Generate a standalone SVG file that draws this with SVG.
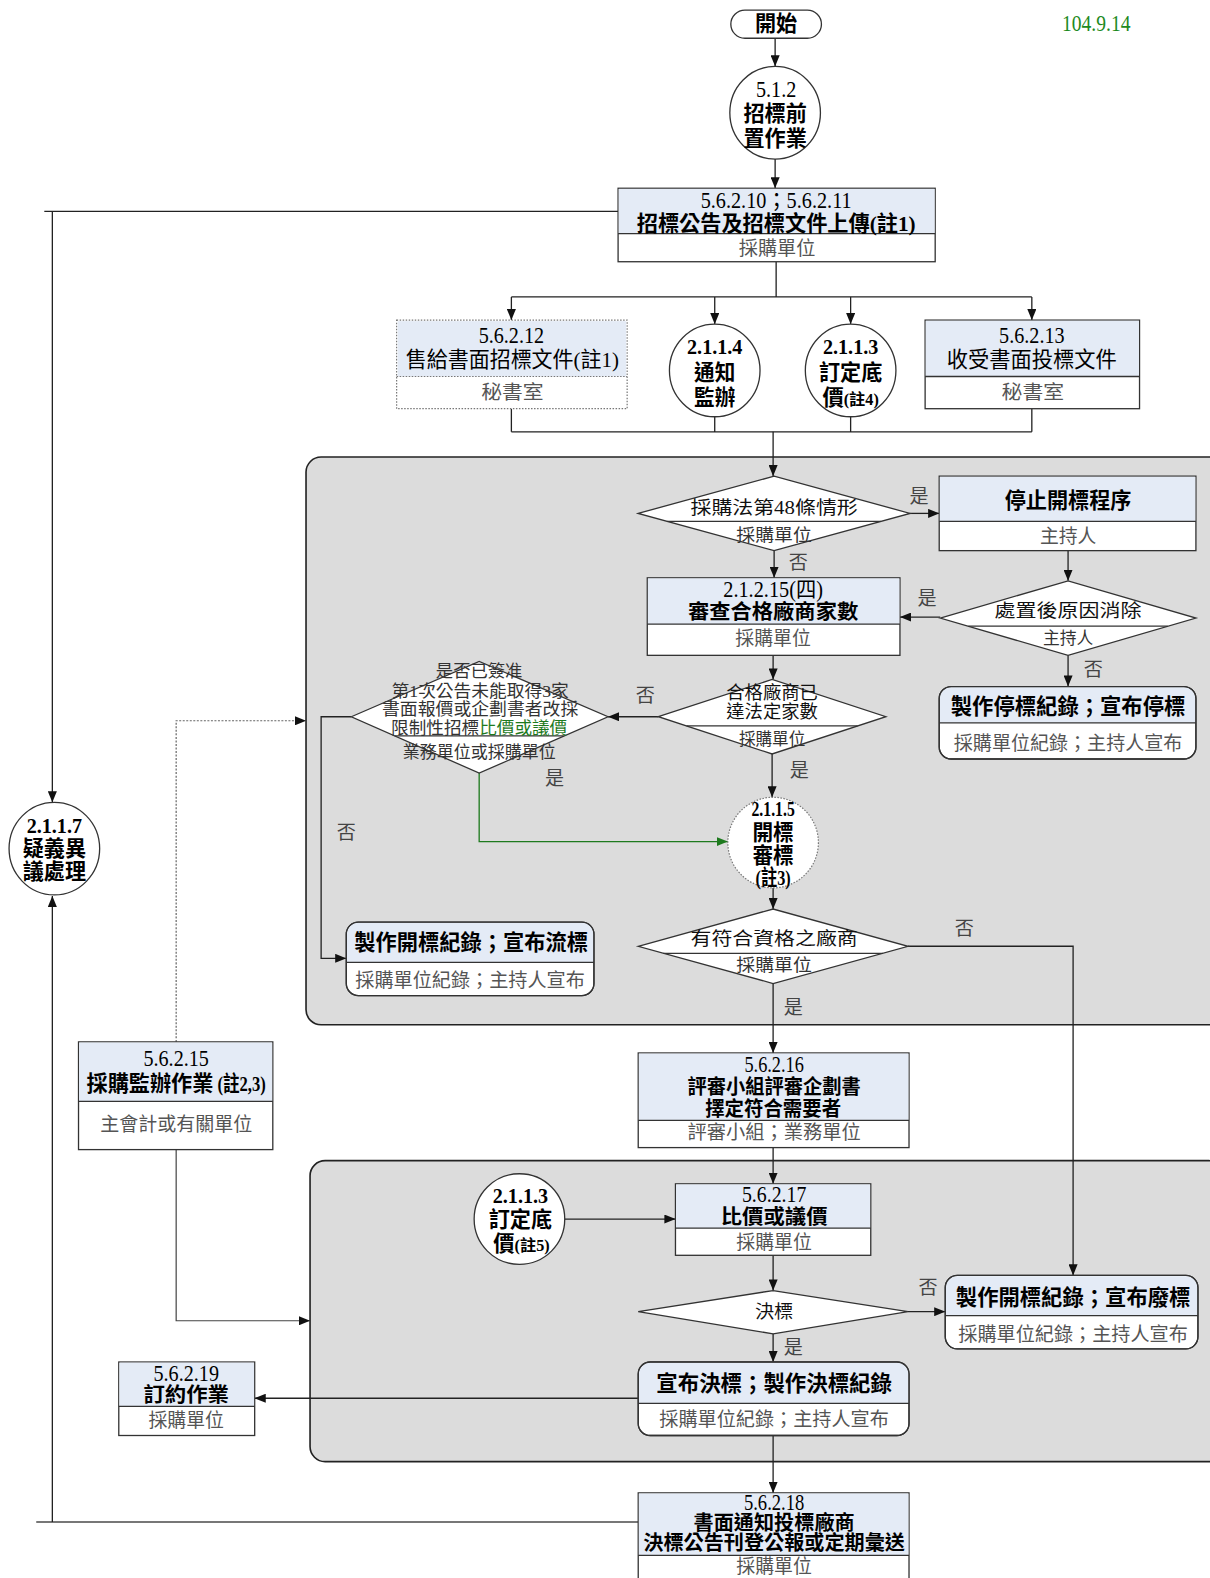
<svg xmlns="http://www.w3.org/2000/svg" width="1210" height="1578" viewBox="0 0 1210 1578">
<style>
.ln{fill:none;stroke:#222;stroke-width:1.3}
.ar{marker-end:url(#ah)}
.bx{fill:#fff;stroke:#333;stroke-width:1.3}
.hd{fill:#E4EBF6}
.dv{stroke:#333;stroke-width:1.3}
.pn{fill:#DCDCDC;stroke:#222;stroke-width:1.6}
text{font-family:"Liberation Serif","Noto Sans CJK TC",serif;text-anchor:middle}
.t{font-size:21px;fill:#000}
.n{font-size:22px;fill:#000}
.tb{font-size:21px;fill:#000;font-weight:bold}
.tb2{font-size:20px;fill:#000;font-weight:bold}
.s{font-size:19px;fill:#555}
.dt{font-size:18px;fill:#111}
.ds{font-size:17px;fill:#333}
.yn{font-size:19px;fill:#444}
</style>
<defs>
<marker id="ah" markerUnits="userSpaceOnUse" markerWidth="11" markerHeight="9" refX="11" refY="4.5" orient="auto"><path d="M0,0 L11,4.5 L0,9 z" fill="#111"/></marker>
<marker id="ahg" markerUnits="userSpaceOnUse" markerWidth="11" markerHeight="9" refX="11" refY="4.5" orient="auto"><path d="M0,0 L11,4.5 L0,9 z" fill="#1E7A1E"/></marker>
</defs>
<rect width="1210" height="1578" fill="#fff"/>
<g transform="scale(1.00666)">
<g id="panels">
<rect class="pn" x="304" y="454" width="912" height="564" rx="15"/>
<rect class="pn" x="308" y="1153" width="908" height="299" rx="15"/>
</g>
<g id="connectors">
<path class="ln ar" d="M770,38 V66"/>
<path class="ln ar" d="M770,158 V187"/>
<path class="ln" d="M771,260 V295 M508,295 H1025"/>
<path class="ln ar" d="M508,295 V318"/>
<path class="ln ar" d="M710,295 V322"/>
<path class="ln ar" d="M845,295 V322"/>
<path class="ln ar" d="M1025,295 V318"/>
<path class="ln" d="M508,406 V429 M710,414 V429 M845,414 V429 M1025,406 V429 M508,429 H1025"/>
<path class="ln ar" d="M768,429 V473"/>
<path class="ln ar" d="M904,510 H933"/>
<path class="ln ar" d="M769,547 V574"/>
<path class="ln ar" d="M1061,547 V577"/>
<path class="ln ar" d="M934,613 H894"/>
<path class="ln ar" d="M1061,651 V682"/>
<path class="ln ar" d="M768,651 V675"/>
<path class="ln ar" d="M654,712 H604"/>
<path fill="none" stroke="#1E7A1E" stroke-width="1.3" marker-end="url(#ahg)" d="M476,768 V836 H723"/>
<path class="ln ar" d="M349,712 H319 V952 H344"/>
<path class="ln ar" d="M767,749 V792"/>
<path class="ln ar" d="M768,882 V903"/>
<path class="ln ar" d="M902,940 H1066 V1267"/>
<path class="ln ar" d="M768,977 V1046"/>
<path class="ln ar" d="M768,1140 V1176"/>
<path class="ln ar" d="M561,1211 H671"/>
<path class="ln ar" d="M768,1247 V1282"/>
<path class="ln ar" d="M902,1303 H939"/>
<path class="ln ar" d="M768,1325 V1353"/>
<path class="ln ar" d="M634,1389 H253"/>
<path class="ln ar" d="M768,1426 V1483"/>
<path fill="none" stroke="#777" stroke-width="2" d="M634,1512 H36"/>
<path class="ln ar" d="M52,1512 V890"/>
<path class="ln" d="M614,210 H44"/>
<path class="ln ar" d="M52,210 V797"/>
<path fill="none" stroke="#666" stroke-width="1.2" stroke-dasharray="2,1.5" marker-end="url(#ah)" d="M175,1035 V716 H304"/>
<path fill="none" stroke="#444" stroke-width="1.2" marker-end="url(#ah)" d="M175,1142 V1312 H308"/>
</g>
<g id="labels">
<text class="yn" x="913" y="500">是</text>
<text class="yn" x="793" y="565">否</text>
<text class="yn" x="921" y="601">是</text>
<text class="yn" x="1086" y="672">否</text>
<text class="yn" x="641" y="697">否</text>
<text class="yn" x="551" y="780">是</text>
<text class="yn" x="794" y="772">是</text>
<text class="yn" x="344" y="833">否</text>
<text class="yn" x="958" y="929">否</text>
<text class="yn" x="788" y="1007">是</text>
<text class="yn" x="922" y="1285">否</text>
<text class="yn" x="788" y="1345">是</text>
<text x="1089" y="31" font-size="22" fill="#1E8A1E" textLength="68" lengthAdjust="spacingAndGlyphs">104.9.14</text>
</g>
<g id="n_start">
<rect class="bx" x="726" y="10" width="90" height="28" rx="14"/>
<text class="tb" x="771" y="31" font-size="20" textLength="42" lengthAdjust="spacingAndGlyphs">開始</text>
</g>
<g id="n_512">
<ellipse class="bx" cx="770" cy="112" rx="45" ry="46"/>
<text class="n" x="771" y="96" textLength="40" lengthAdjust="spacingAndGlyphs">5.1.2</text>
<text class="tb" x="770" y="120" textLength="63" lengthAdjust="spacingAndGlyphs">招標前</text>
<text class="tb" x="770" y="145" textLength="63" lengthAdjust="spacingAndGlyphs">置作業</text>
</g>
<g id="n_56210">
<rect class="bx" x="614" y="187" width="315" height="73"/>
<rect class="hd" x="614.6" y="187.6" width="313.8" height="44.4"/>
<line class="dv" x1="614" y1="232" x2="929" y2="232"/>
<text class="n" x="771" y="207" textLength="150" lengthAdjust="spacingAndGlyphs">5.6.2.10；5.6.2.11</text>
<text class="tb" x="771" y="229" textLength="277" lengthAdjust="spacingAndGlyphs">招標公告及招標文件上傳(註1)</text>
<text class="s" x="772" y="253" textLength="76" lengthAdjust="spacingAndGlyphs">採購單位</text>
</g>
<g id="n_56212">
<rect x="394" y="318" width="229" height="88" fill="#fff" stroke="#777" stroke-width="1.2" stroke-dasharray="1.5,1.5"/>
<rect class="hd" x="395" y="319" width="227" height="55"/>
<line x1="394" y1="374" x2="623" y2="374" stroke="#777" stroke-width="1.2" stroke-dasharray="1.5,1.5"/>
<text class="n" x="508" y="341" textLength="65" lengthAdjust="spacingAndGlyphs">5.6.2.12</text>
<text class="t" x="509" y="365" textLength="212" lengthAdjust="spacingAndGlyphs">售給書面招標文件(註1)</text>
<text class="s" x="509" y="396" textLength="62" lengthAdjust="spacingAndGlyphs">秘書室</text>
</g>
<g id="n_2114">
<ellipse class="bx" cx="710" cy="368" rx="45" ry="46"/>
<text class="tb" x="710" y="352" textLength="55" lengthAdjust="spacingAndGlyphs">2.1.1.4</text>
<text class="tb" x="710" y="377" textLength="41" lengthAdjust="spacingAndGlyphs">通知</text>
<text class="tb" x="710" y="402" textLength="41" lengthAdjust="spacingAndGlyphs">監辦</text>
</g>
<g id="n_2113a">
<ellipse class="bx" cx="845" cy="368" rx="45" ry="46"/>
<text class="tb" x="845" y="352" textLength="55" lengthAdjust="spacingAndGlyphs">2.1.1.3</text>
<text class="tb" x="845" y="377" textLength="63" lengthAdjust="spacingAndGlyphs">訂定底</text>
<text class="tb" x="845" y="402" textLength="56" lengthAdjust="spacingAndGlyphs">價<tspan font-size="16">(註4)</tspan></text>
</g>
<g id="n_56213">
<rect class="bx" x="919" y="318" width="213" height="88"/>
<rect class="hd" x="919.6" y="318.6" width="211.8" height="55.4"/>
<line class="dv" x1="919" y1="374" x2="1132" y2="374"/>
<text class="n" x="1025" y="341" textLength="65" lengthAdjust="spacingAndGlyphs">5.6.2.13</text>
<text class="t" x="1025" y="365" textLength="169" lengthAdjust="spacingAndGlyphs">收受書面投標文件</text>
<text class="s" x="1026" y="396" textLength="62" lengthAdjust="spacingAndGlyphs">秘書室</text>
</g>
<g id="d_48">
<polygon class="bx" points="634,510 769,473 904,510 769,547"/>
<line class="dv" x1="663" y1="518" x2="875" y2="518"/>
<text class="dt" x="769" y="511" textLength="166" lengthAdjust="spacingAndGlyphs">採購法第48條情形</text>
<text class="ds" x="769" y="537" textLength="75" lengthAdjust="spacingAndGlyphs">採購單位</text>
</g>
<g id="n_stop">
<rect class="bx" x="933" y="473" width="255" height="74"/>
<rect class="hd" x="933.6" y="473.6" width="253.8" height="44.4"/>
<line class="dv" x1="933" y1="518" x2="1188" y2="518"/>
<text class="tb" x="1061" y="505" textLength="126" lengthAdjust="spacingAndGlyphs">停止開標程序</text>
<text class="s" x="1061" y="539" textLength="56" lengthAdjust="spacingAndGlyphs">主持人</text>
</g>
<g id="n_21215">
<rect class="bx" x="643" y="574" width="251" height="77"/>
<rect class="hd" x="643.6" y="574.6" width="249.8" height="45.4"/>
<line class="dv" x1="643" y1="620" x2="894" y2="620"/>
<text class="n" x="768" y="593" textLength="99" lengthAdjust="spacingAndGlyphs">2.1.2.15(四)</text>
<text class="tb2" x="768" y="615" textLength="169" lengthAdjust="spacingAndGlyphs">審查合格廠商家數</text>
<text class="s" x="768" y="641" textLength="75" lengthAdjust="spacingAndGlyphs">採購單位</text>
</g>
<g id="d_dispose">
<polygon class="bx" points="934,614 1061,577 1188,614 1061,651"/>
<line class="dv" x1="962" y1="622" x2="1160" y2="622"/>
<text class="dt" x="1061" y="613" textLength="146" lengthAdjust="spacingAndGlyphs">處置後原因消除</text>
<text class="ds" x="1061" y="640" textLength="50" lengthAdjust="spacingAndGlyphs">主持人</text>
</g>
<g id="n_stoprec">
<rect class="bx" x="933" y="682" width="255" height="72" rx="12"/>
<path class="hd" d="M933.7,718 V694 A11.3,11.3 0 0 1 945,682.7 H1176 A11.3,11.3 0 0 1 1187.3,694 V718 Z"/>
<line class="dv" x1="933" y1="718" x2="1188" y2="718"/>
<rect x="933" y="682" width="255" height="72" rx="12" fill="none" stroke="#333" stroke-width="1.3"/>
<text class="tb" x="1061" y="709" textLength="233" lengthAdjust="spacingAndGlyphs">製作停標紀錄；宣布停標</text>
<text class="s" x="1061" y="745" textLength="227" lengthAdjust="spacingAndGlyphs">採購單位紀錄；主持人宣布</text>
</g>
<g id="d_qual">
<polygon class="bx" points="654,712 767,675 880,712 767,749"/>
<line class="dv" x1="682" y1="721" x2="852" y2="721"/>
<text class="dt" x="767" y="694" textLength="91" lengthAdjust="spacingAndGlyphs">合格廠商已</text>
<text class="dt" x="767" y="713" textLength="91" lengthAdjust="spacingAndGlyphs">達法定家數</text>
<text class="ds" x="767" y="740" fill="#555" textLength="66" lengthAdjust="spacingAndGlyphs">採購單位</text>
</g>
<g id="d_approve">
<polygon class="bx" points="349,712 476,657 604,712 476,768"/>
<line class="dv" x1="392" y1="731" x2="560" y2="731"/>
<text class="ds" x="476" y="673" fill="#111" textLength="86" lengthAdjust="spacingAndGlyphs">是否已簽准</text>
<text class="ds" x="477" y="692" fill="#111" textLength="176" lengthAdjust="spacingAndGlyphs">第1次公告未能取得3家</text>
<text class="ds" x="477" y="710" fill="#111" textLength="195" lengthAdjust="spacingAndGlyphs">書面報價或企劃書者改採</text>
<text class="ds" x="476" y="729" fill="#111" textLength="175" lengthAdjust="spacingAndGlyphs">限制性招標<tspan fill="#1E7A1E">比價或議價</tspan></text>
<text class="ds" x="476" y="753" fill="#555" textLength="152" lengthAdjust="spacingAndGlyphs">業務單位或採購單位</text>
</g>
<g id="n_2115">
<ellipse cx="768" cy="837" rx="45" ry="45" fill="#fff" stroke="#777" stroke-width="1.2" stroke-dasharray="1.5,1.5"/>
<text class="tb" x="768" y="811" font-size="17" textLength="43" lengthAdjust="spacingAndGlyphs">2.1.1.5</text>
<text class="tb" x="768" y="834" font-size="21" textLength="41" lengthAdjust="spacingAndGlyphs">開標</text>
<text class="tb" x="768" y="857" font-size="21" textLength="41" lengthAdjust="spacingAndGlyphs">審標</text>
<text class="tb" x="768" y="879" font-size="15" textLength="35" lengthAdjust="spacingAndGlyphs">(註3)</text>
</g>
<g id="n_fail">
<rect class="bx" x="344" y="916" width="246" height="73" rx="12"/>
<path class="hd" d="M344.7,956 V928 A11.3,11.3 0 0 1 356,916.7 H578 A11.3,11.3 0 0 1 589.3,928 V956 Z"/>
<line class="dv" x1="344" y1="956" x2="590" y2="956"/>
<rect x="344" y="916" width="246" height="73" rx="12" fill="none" stroke="#333" stroke-width="1.3"/>
<text class="tb" x="468" y="944" textLength="232" lengthAdjust="spacingAndGlyphs">製作開標紀錄；宣布流標</text>
<text class="s" x="467" y="980" textLength="228" lengthAdjust="spacingAndGlyphs">採購單位紀錄；主持人宣布</text>
</g>
<g id="d_has">
<polygon class="bx" points="634,940 768,903 902,940 768,977"/>
<line class="dv" x1="659" y1="947" x2="877" y2="947"/>
<text class="dt" x="769" y="939" textLength="166" lengthAdjust="spacingAndGlyphs">有符合資格之廠商</text>
<text class="ds" x="769" y="965" textLength="75" lengthAdjust="spacingAndGlyphs">採購單位</text>
</g>
<g id="n_56216">
<rect class="bx" x="634" y="1046" width="269" height="94"/>
<rect class="hd" x="634.6" y="1046.6" width="267.8" height="66.4"/>
<line class="dv" x1="634" y1="1113" x2="903" y2="1113"/>
<text class="n" x="769" y="1065" textLength="59" lengthAdjust="spacingAndGlyphs">5.6.2.16</text>
<text class="tb2" x="769" y="1087" textLength="172" lengthAdjust="spacingAndGlyphs">評審小組評審企劃書</text>
<text class="tb2" x="768" y="1109" textLength="135" lengthAdjust="spacingAndGlyphs">擇定符合需要者</text>
<text class="s" x="769" y="1131" textLength="172" lengthAdjust="spacingAndGlyphs">評審小組；業務單位</text>
</g>
<g id="n_56215">
<rect class="bx" x="78" y="1035" width="193" height="107"/>
<rect class="hd" x="78.6" y="1035.6" width="191.8" height="58.4"/>
<line class="dv" x1="78" y1="1094" x2="271" y2="1094"/>
<text class="n" x="175" y="1059" textLength="65" lengthAdjust="spacingAndGlyphs">5.6.2.15</text>
<text class="tb" x="149" y="1084" textLength="126" lengthAdjust="spacingAndGlyphs">採購監辦作業</text>
<text class="tb" x="240" y="1084" font-size="15" textLength="48" lengthAdjust="spacingAndGlyphs">(註2,3)</text>
<text class="s" x="175" y="1124" textLength="151" lengthAdjust="spacingAndGlyphs">主會計或有關單位</text>
</g>
<g id="n_2117">
<ellipse class="bx" cx="54" cy="843" rx="45" ry="46"/>
<text class="tb" x="54" y="827" textLength="55" lengthAdjust="spacingAndGlyphs">2.1.1.7</text>
<text class="tb" x="54" y="850" textLength="63" lengthAdjust="spacingAndGlyphs">疑義異</text>
<text class="tb" x="54" y="873" textLength="63" lengthAdjust="spacingAndGlyphs">議處理</text>
</g>
<g id="n_2113b">
<ellipse class="bx" cx="516" cy="1211" rx="45" ry="45"/>
<text class="tb" x="517" y="1195" textLength="55" lengthAdjust="spacingAndGlyphs">2.1.1.3</text>
<text class="tb" x="517" y="1219" textLength="63" lengthAdjust="spacingAndGlyphs">訂定底</text>
<text class="tb" x="518" y="1243" textLength="56" lengthAdjust="spacingAndGlyphs">價<tspan font-size="16">(註5)</tspan></text>
</g>
<g id="n_56217">
<rect class="bx" x="671" y="1176" width="194" height="71"/>
<rect class="hd" x="671.6" y="1176.6" width="192.8" height="43.4"/>
<line class="dv" x1="671" y1="1220" x2="865" y2="1220"/>
<text class="n" x="769" y="1194" textLength="64" lengthAdjust="spacingAndGlyphs">5.6.2.17</text>
<text class="tb2" x="769" y="1216" textLength="106" lengthAdjust="spacingAndGlyphs">比價或議價</text>
<text class="s" x="769" y="1241" textLength="75" lengthAdjust="spacingAndGlyphs">採購單位</text>
</g>
<g id="d_award">
<polygon class="bx" points="634,1303 768,1282 902,1303 768,1325"/>
<text class="dt" x="769" y="1309" textLength="38" lengthAdjust="spacingAndGlyphs">決標</text>
</g>
<g id="n_void">
<rect class="bx" x="939" y="1267" width="251" height="73" rx="12"/>
<path class="hd" d="M939.7,1307 V1279 A11.3,11.3 0 0 1 951,1267.7 H1178 A11.3,11.3 0 0 1 1189.3,1279 V1307 Z"/>
<line class="dv" x1="939" y1="1307" x2="1190" y2="1307"/>
<rect x="939" y="1267" width="251" height="73" rx="12" fill="none" stroke="#333" stroke-width="1.3"/>
<text class="tb" x="1066" y="1296" textLength="233" lengthAdjust="spacingAndGlyphs">製作開標紀錄；宣布廢標</text>
<text class="s" x="1066" y="1332" textLength="228" lengthAdjust="spacingAndGlyphs">採購單位紀錄；主持人宣布</text>
</g>
<g id="n_award">
<rect class="bx" x="634" y="1353" width="269" height="73" rx="12"/>
<path class="hd" d="M634.7,1394 V1365 A11.3,11.3 0 0 1 646,1353.7 H891 A11.3,11.3 0 0 1 902.3,1365 V1394 Z"/>
<line class="dv" x1="634" y1="1394" x2="903" y2="1394"/>
<rect x="634" y="1353" width="269" height="73" rx="12" fill="none" stroke="#333" stroke-width="1.3"/>
<text class="tb" x="769" y="1382" textLength="234" lengthAdjust="spacingAndGlyphs">宣布決標；製作決標紀錄</text>
<text class="s" x="769" y="1417" textLength="228" lengthAdjust="spacingAndGlyphs">採購單位紀錄；主持人宣布</text>
</g>
<g id="n_56219">
<rect class="bx" x="118" y="1353" width="135" height="73"/>
<rect class="hd" x="118.6" y="1353.6" width="133.8" height="43.4"/>
<line class="dv" x1="118" y1="1397" x2="253" y2="1397"/>
<text class="n" x="185" y="1372" textLength="65" lengthAdjust="spacingAndGlyphs">5.6.2.19</text>
<text class="tb2" x="185" y="1393" textLength="85" lengthAdjust="spacingAndGlyphs">訂約作業</text>
<text class="s" x="185" y="1418" textLength="75" lengthAdjust="spacingAndGlyphs">採購單位</text>
</g>
<g id="n_56218">
<rect class="bx" x="634" y="1483" width="269" height="90"/>
<rect class="hd" x="634.6" y="1483.6" width="267.8" height="61.4"/>
<line class="dv" x1="634" y1="1545" x2="903" y2="1545"/>
<text class="n" x="769" y="1500" font-size="20" textLength="60" lengthAdjust="spacingAndGlyphs">5.6.2.18</text>
<text class="tb2" x="769" y="1520" font-size="18" textLength="160" lengthAdjust="spacingAndGlyphs">書面通知投標廠商</text>
<text class="tb2" x="769" y="1540" font-size="18" textLength="260" lengthAdjust="spacingAndGlyphs">決標公告刊登公報或定期彙送</text>
<text class="s" x="769" y="1563" textLength="75" lengthAdjust="spacingAndGlyphs">採購單位</text>
</g>
</g>
</svg>
